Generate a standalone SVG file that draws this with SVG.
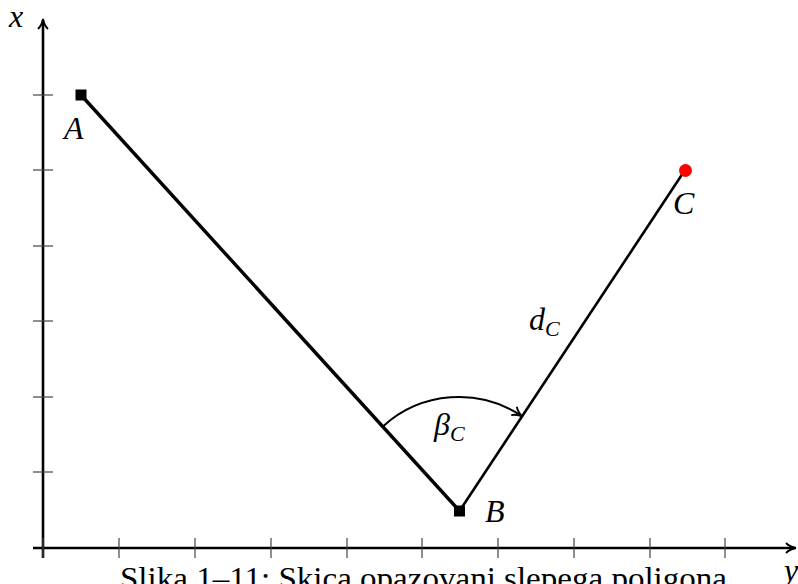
<svg xmlns="http://www.w3.org/2000/svg" width="798" height="584" viewBox="0 0 798 584">
<style>
.tick{stroke:#444;stroke-width:1.2}
.axis{stroke:#000;stroke-width:2.6;fill:none}
.lbl{font-family:"Liberation Serif","DejaVu Serif",serif;font-style:italic;font-size:32px;fill:#000}
.sub{font-size:22px}
.cap{font-family:"Liberation Serif","DejaVu Serif",serif;font-size:31px;fill:#000}
</style>
<defs>
<marker id="arr" viewBox="0 0 12 12" refX="10" refY="6" markerWidth="12" markerHeight="12" markerUnits="userSpaceOnUse" orient="auto">
<path d="M1,1 Q5,5 11,6 Q5,7 1,11" fill="none" stroke="#000" stroke-width="1.8"/>
</marker>
</defs>
<g id="axes">
<line class="axis" x1="33" y1="548" x2="795" y2="548" marker-end="url(#arr)"/>
<line class="axis" x1="43" y1="558" x2="43" y2="20" marker-end="url(#arr)"/>
<g id="ticks-x">
<line class="tick" x1="43" y1="538" x2="43" y2="558"/>
<line class="tick" x1="119" y1="538" x2="119" y2="558"/>
<line class="tick" x1="195" y1="538" x2="195" y2="558"/>
<line class="tick" x1="271" y1="538" x2="271" y2="558"/>
<line class="tick" x1="347" y1="538" x2="347" y2="558"/>
<line class="tick" x1="422" y1="538" x2="422" y2="558"/>
<line class="tick" x1="498" y1="538" x2="498" y2="558"/>
<line class="tick" x1="574" y1="538" x2="574" y2="558"/>
<line class="tick" x1="650" y1="538" x2="650" y2="558"/>
<line class="tick" x1="725" y1="538" x2="725" y2="558"/>
</g>
<g id="ticks-y">
<line class="tick" x1="33" y1="95" x2="53" y2="95"/>
<line class="tick" x1="33" y1="170" x2="53" y2="170"/>
<line class="tick" x1="33" y1="246" x2="53" y2="246"/>
<line class="tick" x1="33" y1="321" x2="53" y2="321"/>
<line class="tick" x1="33" y1="397" x2="53" y2="397"/>
<line class="tick" x1="33" y1="472" x2="53" y2="472"/>
</g>
<text class="lbl" x="9" y="27">x</text>
<text class="lbl" x="784" y="581">y</text>
</g>
<g id="connectors">
<line id="AB" x1="81" y1="95" x2="459.5" y2="511" stroke="#000" stroke-width="3.4"/>
<line id="BC" x1="459.5" y1="511" x2="685" y2="170" stroke="#000" stroke-width="2.6"/>
<path id="angle" d="M382.9,426.5 A113,113 0 0 1 521.5,415.9" fill="none" stroke="#000" stroke-width="2" marker-end="url(#arr)"/>
</g>
<g id="nodeA">
<rect x="75.5" y="89.5" width="11" height="11" fill="#000"/>
<text class="lbl" x="64" y="139">A</text>
</g>
<g id="nodeB">
<rect x="454" y="505.5" width="11" height="11" fill="#000"/>
<text class="lbl" x="485" y="522">B</text>
</g>
<g id="nodeC">
<circle cx="685.5" cy="170.5" r="6.5" fill="#f00"/>
<text class="lbl" x="673" y="214">C</text>
</g>
<g id="labels">
<text class="lbl" x="529" y="330">d<tspan class="sub" dy="6">C</tspan></text>
<text class="lbl" x="434" y="435">β<tspan class="sub" dy="6">C</tspan></text>
</g>
<text class="cap" x="120" y="589" textLength="607" lengthAdjust="spacingAndGlyphs">Slika 1–11: Skica opazovani slepega poligona</text>
</svg>
